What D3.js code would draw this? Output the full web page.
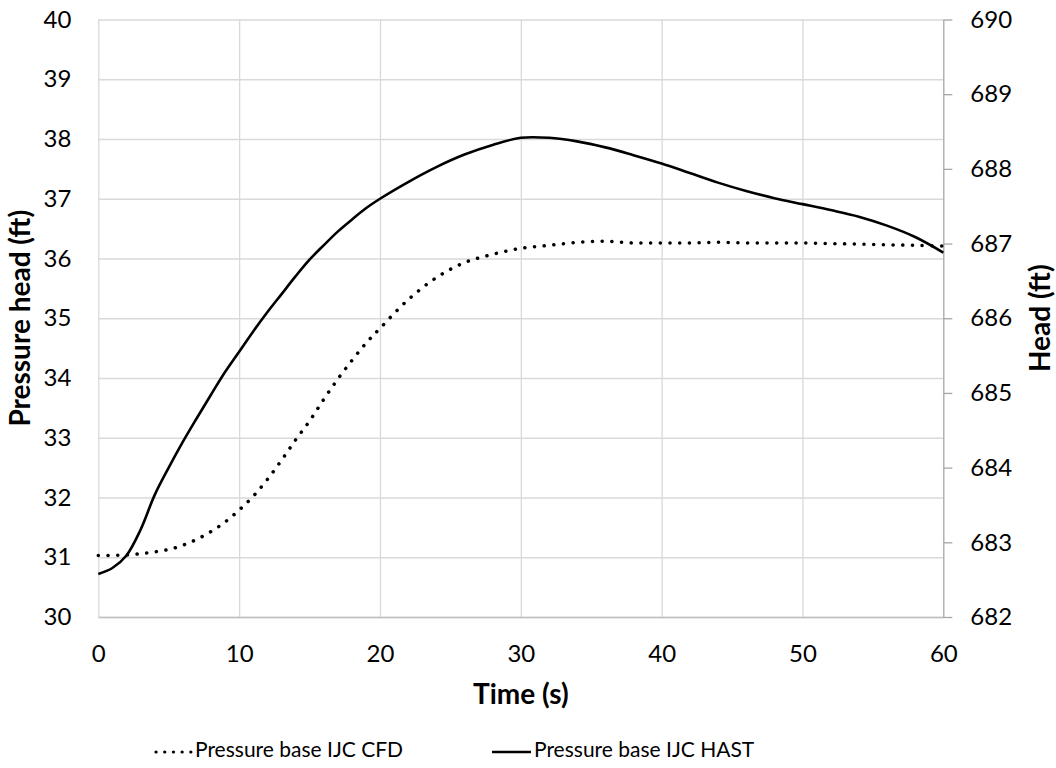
<!DOCTYPE html>
<html>
<head>
<meta charset="utf-8">
<script src="https://cdn.jsdelivr.net/npm/d3@7"></script>
<style>
  html, body { margin: 0; padding: 0; background: #fff; }
  svg { display: block; font-family: Lato, "Open Sans", sans-serif; }
</style>
</head>
<body>
<svg id="chart" width="1056" height="768"></svg>
<script>
// ---- data ----
const time = [0,1,2,3,4,5,6,7,8,9,10,11,12,13,14,15,16,17,18,19,20,22,24,26,28,30,32,34,36,38,40,42,44,46,48,50,52,54,56,58,60];
const cfd  = [31.03,31.03,31.04,31.06,31.09,31.13,31.2,31.3,31.43,31.59,31.79,32.02,32.3,32.62,32.96,33.28,33.64,33.98,34.29,34.58,34.83,35.31,35.68,35.93,36.07,36.17,36.22,36.27,36.29,36.26,36.26,36.26,36.27,36.26,36.26,36.26,36.25,36.24,36.23,36.22,36.21];
const hast = [30.72,30.82,31.03,31.46,32.04,32.5,32.93,33.33,33.72,34.1,34.44,34.78,35.1,35.4,35.7,35.98,36.22,36.45,36.65,36.84,37.0,37.28,37.53,37.74,37.9,38.02,38.02,37.96,37.86,37.73,37.59,37.43,37.27,37.13,37.01,36.91,36.81,36.7,36.55,36.36,36.1];
const xTicks = [0,10,20,30,40,50,60];
const yTicks = [30,31,32,33,34,35,36,37,38,39,40];
const y2Ticks = [682,683,684,685,686,687,688,689,690];
const seriesNames = ["Pressure base IJC CFD", "Pressure base IJC HAST"];
const xTitle = "Time (s)";
const yTitle = "Pressure head (ft)";
const y2Title = "Head (ft)";

// ---- layout ----
const svg = d3.select("#chart");
const L = 98.3, R = 943.3, T = 19.5, B = 617;
const x = d3.scaleLinear().domain([0, 60]).range([L, R]);
const y = d3.scaleLinear().domain([30, 40]).range([B, T]);
const y2 = d3.scaleLinear().domain([682, 690]).range([B, T]);

// horizontal gridlines
svg.append("g").attr("transform", `translate(${L},0)`)
  .call(d3.axisLeft(y).tickValues(yTicks).tickSize(-(R - L)).tickFormat(""))
  .call(g => g.select(".domain").remove())
  .call(g => g.selectAll("line").attr("stroke", "#d9d9d9").attr("stroke-width", 1.3));
// vertical gridlines
svg.append("g").attr("transform", `translate(0,${B})`)
  .call(d3.axisBottom(x).tickValues(xTicks.slice(0, -1)).tickSize(-(B - T)).tickFormat(""))
  .call(g => g.select(".domain").remove())
  .call(g => g.selectAll("line").attr("stroke", "#d9d9d9").attr("stroke-width", 1.3));

// bottom axis line + labels
svg.append("g").attr("transform", `translate(0,${B})`)
  .call(d3.axisBottom(x).tickValues(xTicks).tickSize(0).tickPadding(28).tickSizeOuter(0))
  .call(g => g.select(".domain").attr("stroke", "#bfbfbf").attr("stroke-width", 1.3))
  .call(g => g.selectAll("text").attr("font-size", 24).attr("fill", "#000").attr("font-family", "Lato"));

// left labels
svg.append("g").attr("transform", `translate(${L},0)`)
  .call(d3.axisLeft(y).tickValues(yTicks).tickSize(0).tickPadding(27))
  .call(g => g.select(".domain").remove())
  .call(g => g.selectAll("text").attr("font-size", 24).attr("fill", "#000").attr("font-family", "Lato"));

// right axis
svg.append("g").attr("transform", `translate(${R},0)`)
  .call(d3.axisRight(y2).tickValues(y2Ticks).tickSize(9).tickPadding(18).tickSizeOuter(0))
  .call(g => g.select(".domain").attr("stroke", "#a6a6a6").attr("stroke-width", 1.3))
  .call(g => g.selectAll("line").attr("stroke", "#a6a6a6").attr("stroke-width", 1.3))
  .call(g => g.selectAll("text").attr("font-size", 24).attr("fill", "#000").attr("font-family", "Lato"));

// lines
const line = (vals) => d3.line()
  .x((d, i) => x(time[i]))
  .y(d => y(d))
  .curve(d3.curveCatmullRom.alpha(0.5))(vals);

svg.append("path").attr("d", line(cfd))
  .attr("fill", "none").attr("stroke", "#000").attr("stroke-width", 3.5)
  .attr("stroke-linecap", "round").attr("stroke-dasharray", "0.1 9.6");
svg.append("path").attr("d", line(hast))
  .attr("fill", "none").attr("stroke", "#000").attr("stroke-width", 2.6)
  .attr("stroke-linejoin", "round");

// titles
svg.append("text").attr("x", (L + R) / 2).attr("y", 694).attr("dy", "0.35em")
  .attr("text-anchor", "middle").attr("font-size", 28).attr("font-weight", "bold").text(xTitle);
svg.append("text").attr("transform", `translate(20,${(T + B) / 2}) rotate(-90)`).attr("dy", "0.35em")
  .attr("text-anchor", "middle").attr("font-size", 28).attr("font-weight", "bold").text(yTitle);
svg.append("text").attr("transform", `translate(1040,${(T + B) / 2}) rotate(-90)`).attr("dy", "0.35em")
  .attr("text-anchor", "middle").attr("font-size", 28).attr("font-weight", "bold").text(y2Title);

// legend
const legY = 752;
const leg = svg.append("g");
leg.append("line").attr("x1", 156).attr("x2", 191).attr("y1", legY).attr("y2", legY)
  .attr("stroke", "#000").attr("stroke-width", 3.2).attr("stroke-linecap", "round").attr("stroke-dasharray", "0.1 8.6");
leg.append("text").attr("x", 195).attr("y", legY - 2).attr("dy", "0.35em").attr("font-size", 21).text(seriesNames[0]);
leg.append("line").attr("x1", 492).attr("x2", 531).attr("y1", legY).attr("y2", legY)
  .attr("stroke", "#000").attr("stroke-width", 2.3);
leg.append("text").attr("x", 534).attr("y", legY - 2).attr("dy", "0.35em").attr("font-size", 21).text(seriesNames[1]);
</script>
</body>
</html>
